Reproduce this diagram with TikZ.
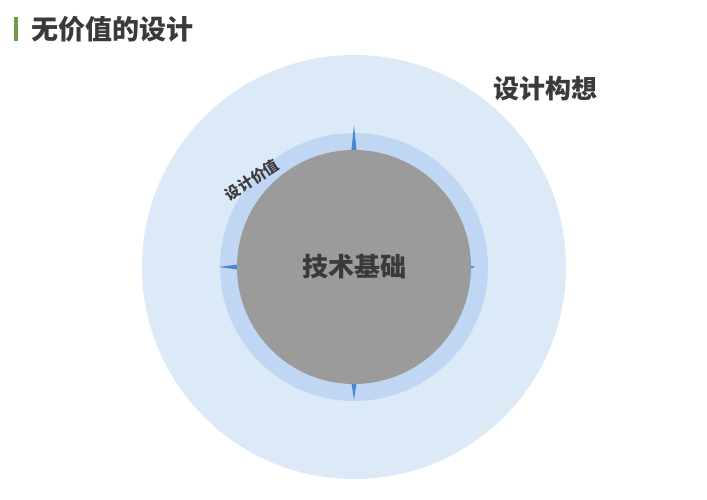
\documentclass[tikz,border=0pt]{standalone}
\usepackage{fontspec}
\newfontfamily\cjk{Noto Sans CJK SC}
\usepackage{xcolor}
\usetikzlibrary{calc}
\definecolor{outerblue}{HTML}{DCE9F7}
\definecolor{midblue}{HTML}{BFD7F3}
\definecolor{spikeblue}{HTML}{4A86D4}
\definecolor{coregray}{HTML}{9B9B9B}
\definecolor{textgray}{HTML}{3A3A3A}
\definecolor{bargreen}{HTML}{6F9A4B}

\begin{document}
\begin{tikzpicture}[x=1pt,y=-1pt,
every node/.style={font=\cjk\bfseries, text=textgray, inner sep=0pt}]
\useasboundingbox [fill=white] (0,0) rectangle (707,500);
\coordinate (O) at (354,267);
% rings
\fill [outerblue] (O) circle (212);
\fill [midblue] (O) circle (134);
% compass points
\foreach \ang/\len in {270/142, 180/135, 90/133, 0/121}
  \fill [spikeblue] ($(O)+(\ang:\len)$) -- ($(O)+(\ang+1.6:112)$) -- ($(O)+(\ang-1.6:112)$) -- cycle;
\fill [coregray] (O) circle (117);
% texts
\node [font=\cjk\bfseries\fontsize{26}{26}\selectfont] (core) at (O) {技术基础};
\node [font=\cjk\bfseries\fontsize{26}{26}\selectfont] (idea) at (545,89) {设计构想};
\node [font=\cjk\bfseries\fontsize{15}{15}\selectfont, rotate=33] (value) at (252,180) {设计价值};
% title
\fill [bargreen] (14,17) rectangle (18,41);
\node [anchor=west, font=\cjk\bfseries\fontsize{27}{27}\selectfont] (title) at (31,29) {无价值的设计};
\end{tikzpicture}
\end{document}
